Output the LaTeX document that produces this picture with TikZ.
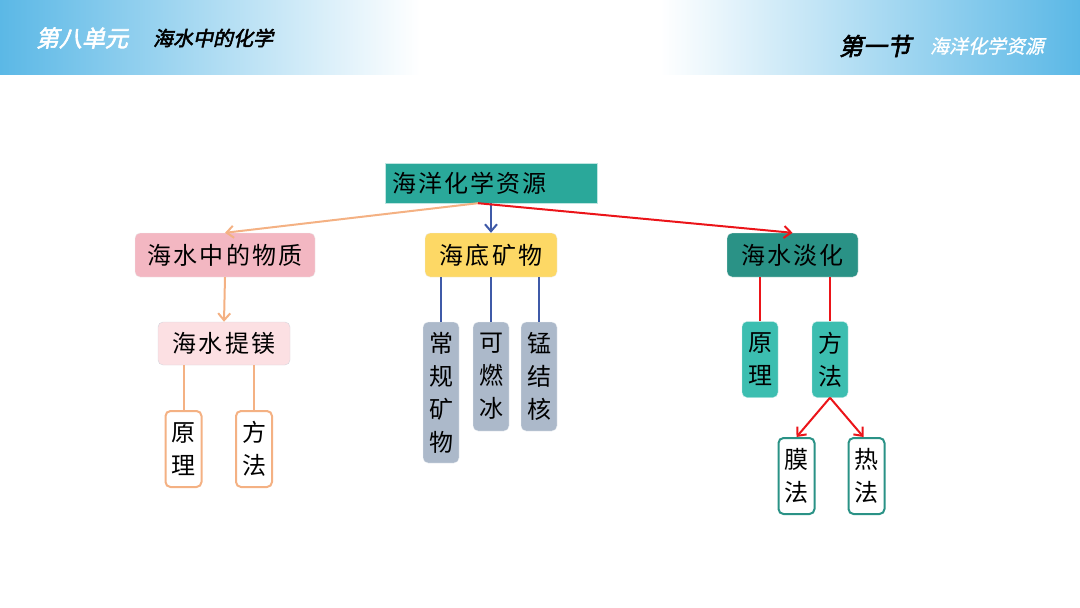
\documentclass[tikz,border=0pt]{standalone}
\usepackage{fontspec}
\setmainfont{Noto Sans CJK SC}[LetterSpace=9]
\newfontfamily\vertfont{Noto Sans CJK SC}
\newfontfamily\headfont{Noto Sans CJK SC}[FakeSlant=0.22,FakeBold=2.5]
\newfontfamily\headlight{Noto Sans CJK SC}[FakeSlant=0.22,FakeBold=1]
\usetikzlibrary{arrows.meta}
\definecolor{bandblue}{RGB}{91,184,230}
\definecolor{rootteal}{RGB}{42,168,154}
\definecolor{darkteal}{RGB}{42,146,134}
\definecolor{midteal}{RGB}{60,190,176}
\definecolor{pinkbox}{RGB}{243,183,194}
\definecolor{palepink}{RGB}{252,224,227}
\definecolor{yellowbox}{RGB}{253,216,101}
\definecolor{slatebox}{RGB}{172,185,202}
\definecolor{orangeline}{RGB}{244,177,131}
\definecolor{blueline}{RGB}{63,90,168}
\definecolor{redline}{RGB}{235,20,25}

\begin{document}
\begin{tikzpicture}[
        x=1pt, y=-1pt,
        >={Straight Barb[length=7pt,width=12pt]},
        topbox/.style={rectangle, draw=rootteal!30, fill=rootteal, text=black, minimum height=40pt, font=\fontsize{24}{28}\selectfont},
        mainbox/.style={rectangle, rounded corners=5pt, draw=white!85!gray, minimum height=44pt, inner xsep=7pt, font=\fontsize{24}{28}\selectfont},
        vertbox/.style={rectangle, rounded corners=5pt, align=center, inner xsep=0pt, minimum width=36pt, font=\vertfont\fontsize{24}{33}\selectfont},
        orangeleaf/.style={vertbox, draw=orangeline, line width=2pt, fill=white, minimum height=76pt},
        slateleaf/.style={vertbox, draw=white!80!slatebox, fill=slatebox},
        tealleaf/.style={vertbox, draw=white!70!midteal, fill=midteal, minimum height=76pt},
        waterleaf/.style={vertbox, draw=darkteal, line width=2pt, fill=white, minimum height=76pt},
        link/.style={line width=2pt}
    ]
    \useasboundingbox (0,0) rectangle (1080,608);

    % Header band
    \shade[left color=bandblue, right color=white] (0,0) rectangle (420,74);
    \shade[left color=white, right color=bandblue] (660,0) rectangle (1080,74);
    \node[text=white, font=\headfont\fontsize{23}{26}\selectfont] (unit) at (82,38) {第八单元};
    \node[text=black, font=\headfont\fontsize{20}{24}\selectfont] (unittitle) at (213,38) {海水中的化学};
    \node[text=black, font=\headfont\fontsize{24}{28}\selectfont] (sect) at (875,46) {第一节};
    \node[text=white, font=\headlight\fontsize{19}{22}\selectfont] (secttitle) at (987,46) {海洋化学资源};

    % Root
    \node[topbox, text width=198pt, inner xsep=7pt, align=left] (root) at (491,183) {海洋化学资源};

    % Left branch - substances in sea water
    \node[mainbox, fill=pinkbox, minimum width=180pt] (subst) at (225,255) {海水中的物质};
    \node[mainbox, fill=palepink, draw=blue!10!gray!30, minimum width=132pt, minimum height=43pt] (magn) at (224,343.5) {海水提镁};
    \node[orangeleaf] (magprin) at (183.5,449) {原\\理};
    \node[orangeleaf] (magmeth) at (254,449) {方\\法};
    \draw[->, link, orangeline] ([xshift=-13pt]root.south) -- (subst.north);
    \draw[->, link, orangeline] (subst.south) -- (magn.north);
    \draw[link, orangeline] (magprin.north) -- (magprin.north |- magn.south);
    \draw[link, orangeline] (magmeth.north) -- (magmeth.north |- magn.south);

    % Middle branch - seabed minerals
    \node[mainbox, fill=yellowbox, minimum width=132pt] (seabed) at (491,255) {海底矿物};
    \node[slateleaf, minimum height=141pt] (ordin) at (441,392.5) {常\\规\\矿\\物};
    \node[slateleaf, minimum height=109pt] (hydrate) at (491,376.5) {可\\燃\\冰};
    \node[slateleaf, minimum height=109pt] (nodule) at (539,376.5) {锰\\结\\核};
    \draw[->, link, blueline] (root.south) -- (seabed.north);
    \draw[link, blueline] (ordin.north) -- (ordin.north |- seabed.south);
    \draw[link, blueline] (hydrate.north) -- (hydrate.north |- seabed.south);
    \draw[link, blueline] (nodule.north) -- (nodule.north |- seabed.south);

    % Right branch - desalination
    \node[mainbox, fill=darkteal, minimum width=131pt] (desal) at (792.5,255) {海水淡化};
    \node[tealleaf] (desprin) at (760,359.5) {原\\理};
    \node[tealleaf] (desmeth) at (830,359.5) {方\\法};
    \node[waterleaf] (membr) at (796.5,476) {膜\\法};
    \node[waterleaf] (therm) at (866.5,476) {热\\法};
    \draw[->, link, redline] ([xshift=-13pt]root.south) -- (desal.north);
    \draw[link, redline] (desprin.north) -- (desprin.north |- desal.south);
    \draw[link, redline] (desmeth.north) -- (desmeth.north |- desal.south);
    \draw[->, link, redline] (desmeth.south) -- (membr.north);
    \draw[->, link, redline] (desmeth.south) -- ([xshift=-3pt]therm.north);

\end{tikzpicture}
\end{document}
